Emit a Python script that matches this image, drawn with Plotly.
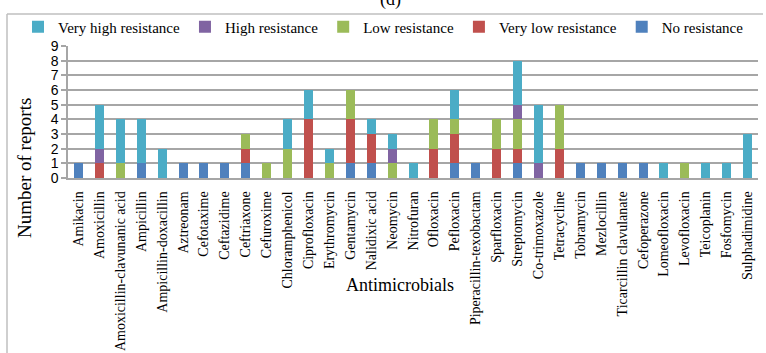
import plotly.graph_objects as go

categories = ["Amikacin", "Amoxicillin", "Amoxicillin-clavunanic acid", "Ampicillin",
              "Ampicillin-doxacillin", "Aztreonam", "Cefotaxime", "Ceftazidime",
              "Ceftriaxone", "Cefuroxime", "Chloramphenicol", "Ciprofloxacin",
              "Erythromycin", "Gentamycin", "Nalidixic acid", "Neomycin", "Nitrofuran",
              "Ofloxacin", "Pefloxacin", "Piperacillin-texobactam", "Sparfloxacin",
              "Streptomycin", "Co-trimoxazole", "Tetracycline", "Tobramycin",
              "Mezlocillin", "Ticarcillin clavulanate", "Cefoperazone", "Lomeofloxacin",
              "Levofloxacin", "Teicoplanin", "Fosfomycin", "Sulphadimidine"]

no_resistance       = [1, 0, 0, 1, 0, 1, 1, 1, 1, 0, 0, 0, 0, 1, 1, 0, 0, 0, 1, 1, 0, 1, 0, 0, 1, 1, 1, 1, 0, 0, 0, 0, 0]
very_low_resistance = [0, 1, 0, 0, 0, 0, 0, 0, 1, 0, 0, 4, 0, 3, 2, 0, 0, 2, 2, 0, 2, 1, 0, 2, 0, 0, 0, 0, 0, 0, 0, 0, 0]
low_resistance      = [0, 0, 1, 0, 0, 0, 0, 0, 1, 1, 2, 0, 1, 2, 0, 1, 0, 2, 1, 0, 2, 2, 0, 3, 0, 0, 0, 0, 0, 1, 0, 0, 0]
high_resistance     = [0, 1, 0, 0, 0, 0, 0, 0, 0, 0, 0, 0, 0, 0, 0, 1, 0, 0, 0, 0, 0, 1, 1, 0, 0, 0, 0, 0, 0, 0, 0, 0, 0]
very_high_resistance= [0, 3, 3, 3, 2, 0, 0, 0, 0, 0, 2, 2, 1, 0, 1, 1, 1, 0, 2, 0, 0, 3, 4, 0, 0, 0, 0, 0, 1, 0, 1, 1, 3]

series = [
    ("No resistance", no_resistance, "#4F81BD"),
    ("Very low resistance", very_low_resistance, "#C0504D"),
    ("Low resistance", low_resistance, "#9BBB59"),
    ("High resistance", high_resistance, "#8064A2"),
    ("Very high resistance", very_high_resistance, "#4BACC6"),
]

W, H = 766, 353
L, R, T, B = 68, 8, 46, 175
pw, ph = W - L - R, H - T - B

def px_x(x):
    return (x - L) / pw

def px_y(y):
    return (H - B - y) / ph

fig = go.Figure()
for name, vals, color in series:
    fig.add_trace(go.Bar(x=categories, y=vals, name=name, marker_color=color,
                         marker_line_width=0))

serif = "Liberation Serif"
fig.update_layout(
    width=W, height=H,
    margin=dict(l=L, r=R, t=T, b=B),
    barmode="stack", bargap=0.57,
    plot_bgcolor="white", paper_bgcolor="white",
    showlegend=True,
    legend=dict(orientation="h", traceorder="reversed",
                x=px_x(18), xanchor="left", y=px_y(27), yanchor="middle",
                font=dict(family=serif, size=15, color="#000000"),
                bgcolor="rgba(0,0,0,0)"),
    xaxis=dict(tickangle=-90, tickfont=dict(family=serif, size=14, color="#000000"),
               showline=True, linecolor="#A6A6A6", linewidth=1.5, automargin=False,
               ticks="", ticklabelstandoff=6, showgrid=False),
    yaxis=dict(range=[0, 9], dtick=1, tickfont=dict(family="Liberation Sans", size=14, color="#000000"),
               showline=True, linecolor="#A6A6A6", linewidth=1.5, automargin=False,
               ticks="outside", ticklen=5, tickcolor="#A6A6A6", tickwidth=1.5,
               showgrid=True, gridcolor="#A6A6A6", gridwidth=1.5,
               zeroline=False),
    shapes=[
        dict(type="line", xref="paper", yref="paper", x0=px_x(7), x1=px_x(763), y0=px_y(14), y1=px_y(14),
             line=dict(color="#BFBFBF", width=1.5)),
        dict(type="line", xref="paper", yref="paper", x0=px_x(7), x1=px_x(7), y0=px_y(14), y1=px_y(360),
             line=dict(color="#BFBFBF", width=1.5)),
    ],
    annotations=[
        dict(text="Number of reports", xref="paper", yref="paper", x=px_x(24), y=px_y(168),
             textangle=-90, showarrow=False, xanchor="center", yanchor="middle",
             font=dict(family=serif, size=19, color="#000000")),
        dict(text="Antimicrobials", xref="paper", yref="paper", x=px_x(400), y=px_y(285),
             showarrow=False, xanchor="center", yanchor="middle",
             font=dict(family=serif, size=18, color="#000000")),
        dict(text="(d)", xref="paper", yref="paper", x=px_x(390), y=px_y(-1),
             showarrow=False, xanchor="center", yanchor="middle",
             font=dict(family=serif, size=18, color="#000000")),
    ],
)

fig.write_html("out.html")
